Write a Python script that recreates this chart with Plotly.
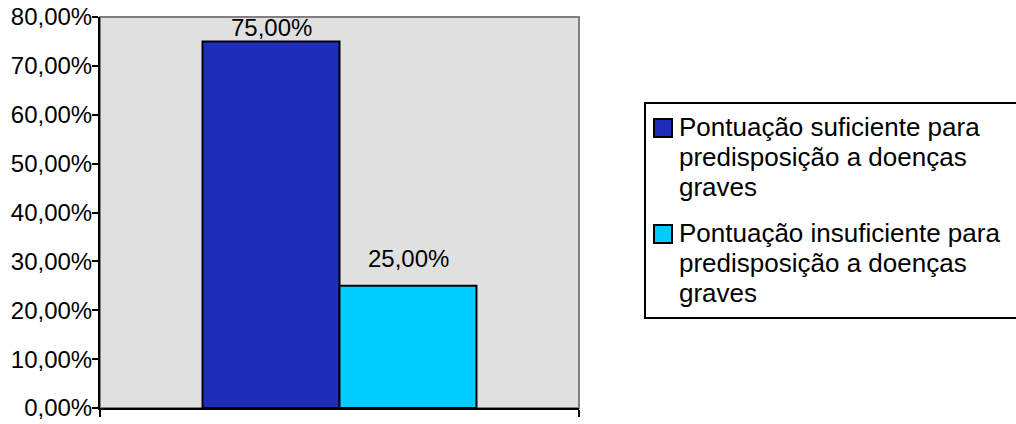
import plotly.graph_objects as go

# Share of participants by score outcome
series_names = [
    "Pontuação suficiente para<br>predisposição a doenças<br>graves",
    "Pontuação insuficiente para<br>predisposição a doenças<br>graves",
]
values = [75.0, 25.0]
colors = ["#1f2dbd", "#00ccff"]
tick_values = [0, 10, 20, 30, 40, 50, 60, 70, 80]
tick_labels = ["0,00%", "10,00%", "20,00%", "30,00%", "40,00%", "50,00%",
               "60,00%", "70,00%", "80,00%"]


def pct(v):
    return f"{v:.2f}".replace(".", ",") + "%"


FONT = "Liberation Sans, Arial, sans-serif"
W, H = 1016, 424
M_L, M_R, M_T, M_B = 100, 437, 17, 16
PLOT_W = W - M_L - M_R
PLOT_H = H - M_T - M_B
BARGAP = 0.428


def paper_x(px):
    return (px - M_L) / PLOT_W


def paper_y(py):
    return (H - M_B - py) / PLOT_H


fig = go.Figure()
for name, val, col in zip(series_names, values, colors):
    fig.add_trace(go.Bar(
        x=[0], y=[val], name=name,
        marker=dict(color=col, line=dict(color="black", width=2)),
        showlegend=False,
    ))

# value labels above each bar (group layout: two bars share the category slot)
bar_w = (1 - BARGAP) / len(values)
label_shift = [-2, 12]
annotations = []
for i, (val, shift) in enumerate(zip(values, label_shift)):
    cx = -(1 - BARGAP) / 2 + bar_w * (i + 0.5)
    annotations.append(dict(
        x=cx, y=val, xref="x", yref="y", text=pct(val), showarrow=False,
        yanchor="bottom", yshift=shift,
        font=dict(family=FONT, size=24, color="black"),
    ))

# legend box: open on the right, it stops at the page edge
lx0, lx1 = paper_x(645), paper_x(W)
ly0, ly1 = paper_y(318), paper_y(103)
shapes = [
    dict(type="rect", xref="paper", yref="paper", x0=0, x1=1, y0=0, y1=1,
         line=dict(color="#808080", width=2), layer="below"),
    dict(type="path", xref="paper", yref="paper",
         path=f"M {lx1},{ly1} L {lx0},{ly1} L {lx0},{ly0} L {lx1},{ly0}",
         line=dict(color="black", width=2), layer="above"),
]
item_tops = [119, 225]
line_step = 30
for name, col, top in zip(series_names, colors, item_tops):
    shapes.append(dict(
        type="rect", xref="paper", yref="paper",
        x0=paper_x(654), x1=paper_x(672), y0=paper_y(top + 18), y1=paper_y(top),
        line=dict(color="black", width=2), fillcolor=col, layer="above",
    ))
    for k, line in enumerate(name.split("<br>")):
        annotations.append(dict(
            x=paper_x(677), y=paper_y(top + 8 + k * line_step),
            xref="paper", yref="paper", text=line, showarrow=False,
            xanchor="left", yanchor="middle",
            font=dict(family=FONT, size=26, color="black"),
        ))

fig.update_layout(
    width=W, height=H,
    margin=dict(l=M_L, r=M_R, t=M_T, b=M_B, autoexpand=False),
    paper_bgcolor="white", plot_bgcolor="#e0e0e0",
    barmode="group", bargap=BARGAP, bargroupgap=0,
    font=dict(family=FONT, size=24, color="black"),
    showlegend=False,
    shapes=shapes, annotations=annotations,
)
fig.update_xaxes(
    range=[-0.5, 0.5], tickvals=[-0.5, 0.5], showticklabels=False,
    ticks="outside", ticklen=7, tickwidth=2, tickcolor="black",
    showline=True, linecolor="black", linewidth=2, showgrid=False, zeroline=False,
)
fig.update_yaxes(
    range=[0, 80], tickvals=tick_values, ticktext=tick_labels,
    ticks="outside", ticklen=6, tickwidth=2, tickcolor="black",
    showline=True, linecolor="black", linewidth=2, showgrid=False, zeroline=False,
    tickfont=dict(family=FONT, size=24, color="black"), ticklabelstandoff=-5,
)

fig.write_html("out.html")
